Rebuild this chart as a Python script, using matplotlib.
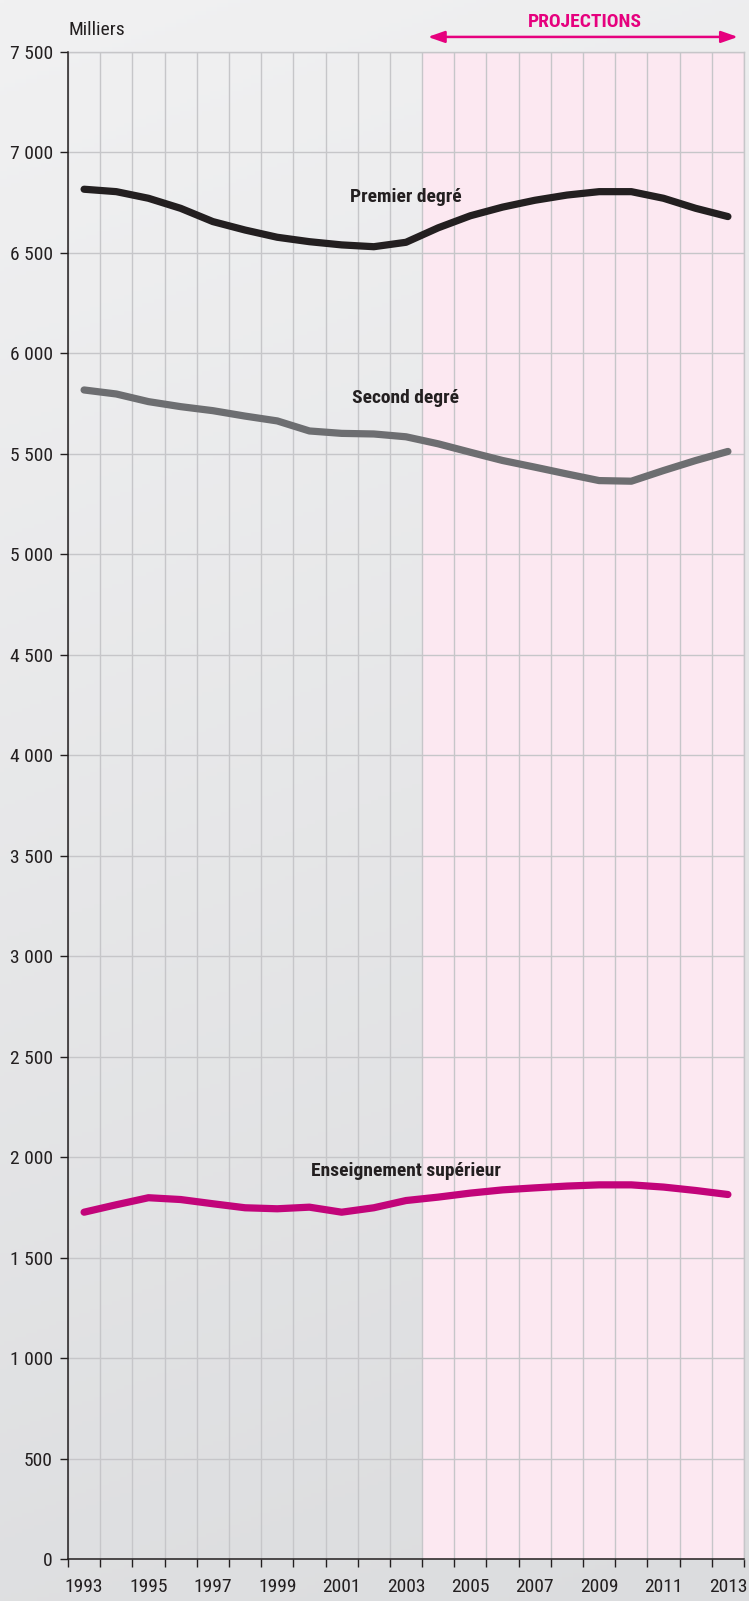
import numpy as np
import matplotlib
matplotlib.use("Agg")
import matplotlib.pyplot as plt
from matplotlib import font_manager as fm
from matplotlib.ticker import FixedLocator, NullFormatter, FuncFormatter

# ---- data (thousands) ----
years = list(range(1993, 2014))
premier = [6817, 6805, 6772, 6722, 6656, 6614, 6578, 6556, 6540, 6531, 6553,
           6625, 6685, 6728, 6762, 6788, 6805, 6805, 6772, 6722, 6681]
second = [5818, 5798, 5760, 5735, 5715, 5688, 5664, 5614, 5602, 5599, 5585,
          5550, 5508, 5467, 5434, 5400, 5367, 5364, 5417, 5467, 5512]
superieur = [1726, 1763, 1798, 1789, 1768, 1748, 1743, 1751, 1726, 1748, 1784,
             1801, 1821, 1837, 1847, 1856, 1862, 1862, 1851, 1834, 1814]
series_names = ["Premier degré", "Second degré", "Enseignement supérieur"]
label_years = [2003, 2003, 2003]
label_values = [6780, 5778, 1933]
year_labels = [str(y) for y in range(1993, 2014, 2)]
y_ticks = list(range(0, 7501, 500))
projection_start = 2003.5

# ---- fonts ----
avail = {f.name for f in fm.fontManager.ttflist}
fam = None
for cand in ["Roboto Condensed", "Liberation Sans Narrow", "DejaVu Sans Condensed", "Roboto", "DejaVu Sans"]:
    if cand in avail:
        fam = cand
        break
plt.rcParams['font.family'] = [fam, 'DejaVu Sans']

W, H = 749, 1601
fig = plt.figure(figsize=(W / 100, H / 100), dpi=100)

# background gradient
bg = fig.add_axes([0, 0, 1, 1], zorder=-10)
yy = np.linspace(0, 1, 400)[:, None]
xx = np.linspace(0, 1, 200)[None, :]
t = np.clip(0.85 * yy + 0.15 * xx, 0, 1)
top = np.array([0xf1, 0xf1, 0xf2]) / 255
bot = np.array([0xdb, 0xdc, 0xde]) / 255
img = top[None, None, :] * (1 - t[..., None]) + bot[None, None, :] * t[..., None]
bg.imshow(img, aspect='auto', extent=[0, 1, 0, 1], origin='upper')
bg.axis('off')

L, R = 68 / W, 744 / W
B, T = 1 - 1559 / H, 1 - 52 / H
ax = fig.add_axes([L, B, R - L, T - B])
ax.set_facecolor('none')
ax.set_xlim(1992.5, 2013.5)
ax.set_ylim(0, 7500)

ax.axvspan(projection_start, 2013.5, color='#fce8f1', zorder=0, lw=0)

grid_c = '#c6c6c9'
fs = 14
ax.xaxis.set_major_locator(FixedLocator([y + 0.5 for y in range(1992, 2014)]))
ax.xaxis.set_major_formatter(NullFormatter())
ax.xaxis.set_minor_locator(FixedLocator([int(s) for s in year_labels]))
ax.xaxis.set_minor_formatter(FuncFormatter(lambda v, p: str(int(round(v)))))
ax.yaxis.set_major_locator(FixedLocator(y_ticks))
ax.yaxis.set_major_formatter(FuncFormatter(lambda v, p: f"{int(v):,}".replace(",", " ")))

ax.grid(True, which='major', color=grid_c, lw=1.0, zorder=1)
ax.tick_params(axis='both', which='major', length=6, width=1, color='#231f20',
               direction='out', labelsize=fs, labelcolor='#231f20', pad=4)
ax.tick_params(axis='x', which='minor', length=0, labelsize=fs, labelcolor='#231f20', pad=14)
ax.tick_params(axis='y', which='major', pad=5)

for s in ['left', 'bottom']:
    ax.spines[s].set_color('#231f20')
    ax.spines[s].set_linewidth(1.1)
    ax.spines[s].set_zorder(5)
for s in ['top', 'right']:
    ax.spines[s].set_color(grid_c)
    ax.spines[s].set_linewidth(1.0)

colors = ['#231f20', '#6d6e71', '#c2047a']
for vals, c in zip([premier, second, superieur], colors):
    ax.plot(years, vals, color=c, lw=5.2, solid_capstyle='round', solid_joinstyle='round', zorder=4)

for name, lx, lv in zip(series_names, label_years, label_values):
    ax.text(lx, lv, name, ha='center', va='center', fontsize=fs, fontweight='bold',
            color='#231f20', zorder=6)

# Milliers
fig.text(68 / W, 1 - 30 / H, "Milliers", ha='left', va='center', fontsize=fs, color='#231f20')

# Projections arrow
pink = '#e6007e'
ax.annotate('', xy=(2013.31, 7575), xytext=(2003.68, 7575), xycoords='data',
            arrowprops=dict(arrowstyle='<|-|>,head_length=1.0,head_width=0.35', color=pink, lw=1.8,
                            shrinkA=0, shrinkB=0), annotation_clip=False)
ax.text(2008.55, 7650, "PROJECTIONS", ha='center', va='center', fontsize=fs, fontweight='bold',
        color=pink, clip_on=False)

fig.savefig('out.png', dpi=100)
